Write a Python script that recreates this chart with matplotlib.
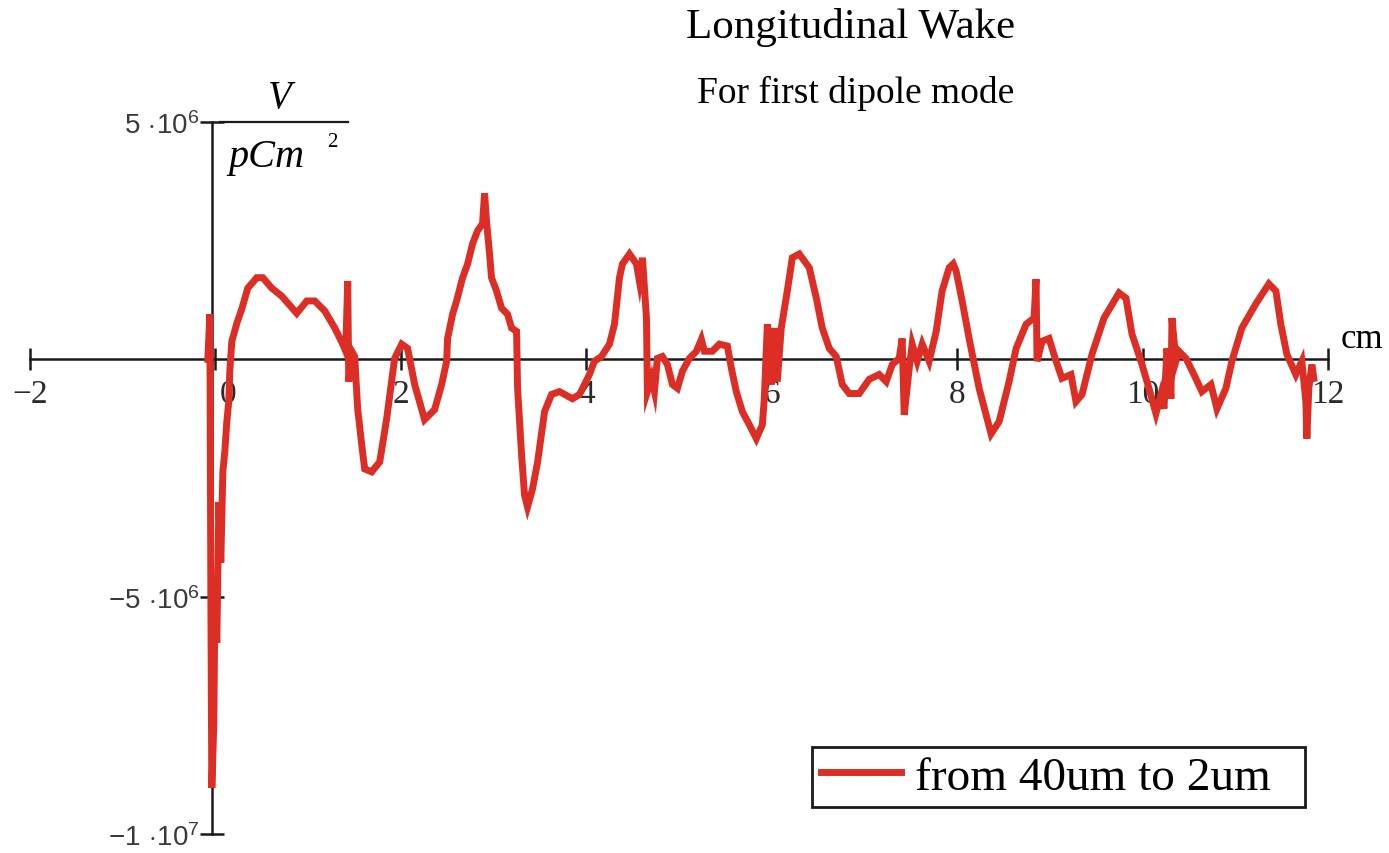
import numpy as np
import matplotlib.pyplot as plt
import matplotlib.transforms as mtransforms
from matplotlib.lines import Line2D

plt.rcParams['font.family'] = ['Liberation Serif', 'DejaVu Serif']
plt.rcParams['mathtext.fontset'] = 'custom'
plt.rcParams['mathtext.rm'] = 'Liberation Sans'
plt.rcParams['mathtext.it'] = 'Liberation Sans:italic'

# wake position along the bunch, cm
s_cm = [-0.082, -0.060, -0.049, -0.039, -0.017, -0.006, 0.015, 0.037, 0.058, 0.080,
        0.101, 0.123, 0.144, 0.155, 0.177, 0.231, 0.284, 0.349, 0.446, 0.511,
        0.608, 0.716, 0.877, 0.985, 1.071, 1.179, 1.287, 1.373, 1.405, 1.427,
        1.438, 1.470, 1.502, 1.534, 1.578, 1.610, 1.685, 1.772, 1.847, 1.933,
        2.009, 2.073, 2.149, 2.256, 2.364, 2.440, 2.494, 2.504, 2.558, 2.601,
        2.666, 2.720, 2.774, 2.828, 2.881, 2.903, 2.925, 2.957, 2.978, 3.032,
        3.086, 3.151, 3.194, 3.248, 3.259, 3.302, 3.334, 3.366, 3.420, 3.475,
        3.550, 3.625, 3.711, 3.851, 3.927, 4.034, 4.088, 4.164, 4.250, 4.304,
        4.358, 4.390, 4.466, 4.541, 4.573, 4.606, 4.649, 4.659, 4.703, 4.735,
        4.767, 4.821, 4.875, 4.929, 4.983, 5.037, 5.112, 5.188, 5.241, 5.274,
        5.360, 5.435, 5.522, 5.565, 5.618, 5.683, 5.759, 5.834, 5.899, 5.920,
        5.953, 5.996, 6.028, 6.060, 6.103, 6.168, 6.222, 6.297, 6.405, 6.481,
        6.545, 6.621, 6.696, 6.761, 6.836, 6.944, 7.052, 7.159, 7.235, 7.300,
        7.375, 7.407, 7.429, 7.483, 7.515, 7.569, 7.623, 7.698, 7.774, 7.838,
        7.914, 7.957, 7.989, 8.054, 8.129, 8.237, 8.312, 8.366, 8.453, 8.560,
        8.636, 8.744, 8.830, 8.851, 8.862, 8.916, 8.991, 9.067, 9.131, 9.228,
        9.282, 9.347, 9.455, 9.584, 9.746, 9.821, 9.886, 9.983, 10.069, 10.144,
        10.198, 10.231, 10.263, 10.306, 10.317, 10.360, 10.392, 10.468, 10.554, 10.640,
        10.737, 10.802, 10.899, 10.963, 11.071, 11.222, 11.362, 11.438, 11.491, 11.556,
        11.653, 11.718, 11.761, 11.772, 11.793, 11.826, 11.847]

# longitudinal wake, 1e6 V/(pC m^2)
wake_e6 = [0.00, 0.95, -5.13, -9.03, -7.67, -5.13, -5.97, -3.01, -4.28, -2.37,
           -1.95, -1.31, -0.89, -0.25, 0.38, 0.76, 1.06, 1.50, 1.72, 1.72,
           1.50, 1.33, 0.97, 1.23, 1.23, 1.02, 0.66, 0.32, 0.17, 1.65,
           -0.47, 0.17, 0.06, -1.04, -1.80, -2.31, -2.37, -2.16, -1.25, 0.02,
           0.32, 0.23, -0.53, -1.27, -1.06, -0.53, -0.04, 0.44, 0.95, 1.23,
           1.72, 2.01, 2.44, 2.71, 2.86, 3.50, 2.88, 2.22, 1.72, 1.44,
           1.08, 0.95, 0.66, 0.59, -0.61, -2.01, -2.86, -3.11, -2.73, -2.16,
           -1.10, -0.74, -0.68, -0.83, -0.74, -0.32, -0.04, 0.06, 0.32, 0.74,
           1.72, 2.01, 2.22, 2.01, 1.65, 2.14, 0.87, -0.68, -0.40, -0.68,
           0.02, 0.06, -0.11, -0.53, -0.61, -0.25, 0.02, 0.17, 0.42, 0.17,
           0.17, 0.32, 0.28, -0.19, -0.68, -1.10, -1.38, -1.67, -1.38, -0.83,
           0.74, -0.53, 0.66, -0.47, 0.66, 1.44, 2.14, 2.22, 1.93, 1.29,
           0.66, 0.23, 0.06, -0.53, -0.72, -0.72, -0.42, -0.32, -0.47, -0.11,
           0.02, 0.44, -1.17, -0.19, 0.32, -0.04, 0.32, -0.04, 0.59, 1.44,
           1.93, 2.01, 1.86, 1.23, 0.44, -0.61, -1.17, -1.57, -1.31, -0.47,
           0.23, 0.74, 0.87, 1.69, -0.04, 0.38, 0.44, -0.04, -0.40, -0.32,
           -0.89, -0.74, 0.11, 0.87, 1.40, 1.29, 0.53, -0.04, -0.61, -1.14,
           -0.74, -1.04, 0.23, -0.83, 0.87, -0.04, 0.17, 0.02, -0.32, -0.68,
           -0.53, -1.04, -0.61, -0.04, 0.66, 1.17, 1.59, 1.44, 0.74, 0.11,
           -0.32, -0.04, -0.89, -1.67, -0.61, -0.11, -0.40]

x_ticks = [-2, 0, 2, 4, 6, 8, 10, 12]
y_ticks = [-1e7, -5e6, 5e6]
y_tick_labels = [r'$-1\,\cdot\!10^{7}$', r'$-5\,\cdot\!10^{6}$', r'$5\,\cdot\!10^{6}$']
series_label = 'from 40um to 2um'

W, H = 1389, 854
fig = plt.figure(figsize=(W / 100, H / 100), dpi=100)
fig.patch.set_facecolor('white')

ax = fig.add_axes([30 / W, 1 - 835 / H, 1298 / W, 712 / H])
ax.set_xlim(-2, 12)
ax.set_ylim(-1e7, 5e6)
ax.patch.set_visible(False)

red = '#dd2e26'
line, = ax.plot(s_cm, np.array(wake_e6) * 1e6, color=red, lw=5,
                solid_joinstyle='miter', label=series_label, zorder=3)

# axes cross at the origin, Mathcad style
for side in ('top', 'right'):
    ax.spines[side].set_visible(False)
ax.spines['left'].set_position(('data', -0.04))
ax.spines['bottom'].set_position(('data', 0))
ax.spines['left'].set_bounds(-1e7, 5e6)
ax.spines['bottom'].set_bounds(-2, 12)
for side in ('left', 'bottom'):
    ax.spines[side].set_linewidth(1.8)
    ax.spines[side].set_color('#1a1a1a')

ax.set_xticks(x_ticks)
ax.set_xticklabels([('−' + str(-t)) if t < 0 else str(t) for t in x_ticks],
                   fontfamily='Liberation Serif')
ax.tick_params(axis='x', direction='inout', length=16, width=1.8, pad=6,
               labelsize=24, color='#1a1a1a', labelcolor='#2a2a2a')

# the "0" label sits a little right of the vertical axis
zero_tick = ax.xaxis.get_major_ticks()[1]
zero_tick.label1.set_transform(zero_tick.label1.get_transform() +
                               mtransforms.ScaledTranslation(13 / 100, 0, fig.dpi_scale_trans))

ax.set_yticks(y_ticks)
ax.set_yticklabels(y_tick_labels)
ax.tick_params(axis='y', direction='inout', length=17, width=1.8, pad=0,
               labelsize=20, color='#1a1a1a', labelcolor='#3a3a3a')


def px_text(px, py, s, **kw):
    fig.text(px / W, 1 - py / H, s, **kw)


px_text(851, 38, 'Longitudinal Wake', ha='center', va='baseline', fontsize=31)
px_text(856, 103, 'For first dipole mode', ha='center', va='baseline', fontsize=27)
px_text(1362, 348, 'cm', ha='center', va='baseline', fontsize=25)

# unit label V / (pC m^2)
px_text(280, 108, 'V', ha='center', va='baseline', fontsize=28, style='italic')
fig.add_artist(Line2D([220 / W, 348 / W], [1 - 123 / H, 1 - 123 / H],
                      color='#1a1a1a', lw=1.6))
px_text(266, 167, 'pCm', ha='center', va='baseline', fontsize=29, style='italic')
px_text(332, 147, '2', ha='center', va='baseline', fontsize=15)

leg = ax.legend(handles=[line], loc='lower left', mode='expand',
                bbox_to_anchor=(812 / W, 1 - 808 / H, 493 / W, 60 / H),
                bbox_transform=fig.transFigure,
                borderaxespad=0, frameon=True, fancybox=False, framealpha=1,
                edgecolor='#1a1a1a', prop={'family': 'Liberation Serif', 'size': 34},
                handlelength=1.7, handletextpad=0.3, borderpad=0.18)
leg.get_frame().set_linewidth(2)

fig.savefig('out.png', dpi=100, facecolor='white')
